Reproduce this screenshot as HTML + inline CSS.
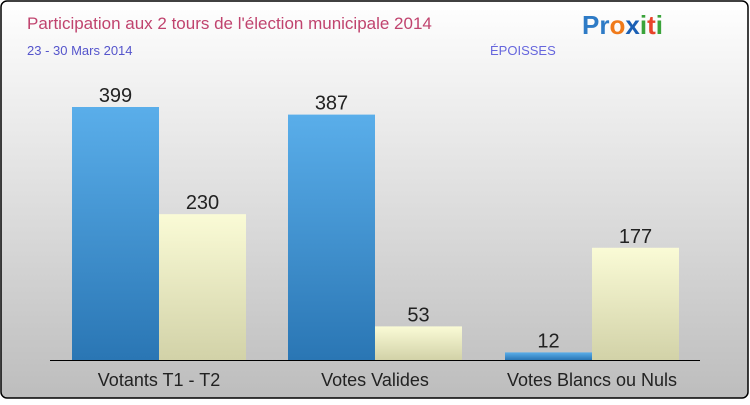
<!DOCTYPE html>
<html><head><meta charset="utf-8"><style>
html,body{margin:0;padding:0;}
body{width:750px;height:400px;overflow:hidden;font-family:"Liberation Sans",sans-serif;}
</style></head><body>
<svg width="750" height="400" xmlns="http://www.w3.org/2000/svg">
<defs>
<linearGradient id="bg" x1="0" y1="0" x2="0" y2="1"><stop offset="0" stop-color="#ffffff"/><stop offset="1" stop-color="#bdbdbd"/></linearGradient>
<linearGradient id="blue" x1="0" y1="0" x2="0" y2="1"><stop offset="0" stop-color="#5aaeea"/><stop offset="1" stop-color="#2a76b4"/></linearGradient>
<linearGradient id="yel" x1="0" y1="0" x2="0" y2="1"><stop offset="0" stop-color="#fafbd6"/><stop offset="1" stop-color="#d2d2a8"/></linearGradient>
</defs>
<rect x="1" y="1" width="747" height="397" rx="6" fill="url(#bg)" stroke="#000" stroke-width="1.5"/>
<text x="27" y="29" font-size="17" fill="#c0436e">Participation aux 2 tours de l'élection municipale 2014</text>
<text x="27" y="55" font-size="13" fill="#5555cc">23 - 30 Mars 2014</text>
<text x="490" y="55" font-size="13" fill="#6666dd">ÉPOISSES</text>
<g font-size="26" font-weight="bold">
<text x="582" y="34"><tspan fill="#2e7bc6">Pr</tspan><tspan fill="#f07a1a">o</tspan><tspan fill="#1a5fb4">x</tspan><tspan fill="#3aa33a">i</tspan><tspan fill="#e8432a">t</tspan><tspan fill="#3aa33a">i</tspan></text>
</g>
<g id="bars"></g>
<line x1="50" y1="360.5" x2="700" y2="360.5" stroke="#000" stroke-width="1"/>
<g id="labels"></g>
</svg>
<script>
const categories=["Votants T1 - T2","Votes Valides","Votes Blancs ou Nuls"];
const t1Values=[399,387,12];
const t2Values=[230,53,177];
const ns="http://www.w3.org/2000/svg";
const base=360, scale=253/399;
function y(v){return base-v*scale;}
const groupX=[72,288,505], bw=87;
const bars=document.getElementById('bars'), labels=document.getElementById('labels');
function mk(t,a){const e=document.createElementNS(ns,t);for(const k in a)e.setAttribute(k,a[k]);return e;}
categories.forEach((c,i)=>{
 [[t1Values,'url(#blue)','t1'],[t2Values,'url(#yel)','t2']].forEach(([arr,fill,s],j)=>{
  const x=groupX[i]+j*bw, v=arr[i];
  const r=mk('rect',{x:x,y:y(v),width:bw,height:v*scale,fill:fill});
  
  
  bars.appendChild(r);
  const t=mk('text',{x:x+bw/2,y:y(v)-5,'text-anchor':'middle','font-size':'20',fill:'#222'});
  t.textContent=v;
  
  
  labels.appendChild(t);
 });
 const l=mk('text',{x:groupX[i]+bw,y:386,'text-anchor':'middle','font-size':'18',fill:'#222'});
 l.textContent=c;
 
 
 labels.appendChild(l);
});
</script>
</body></html>
